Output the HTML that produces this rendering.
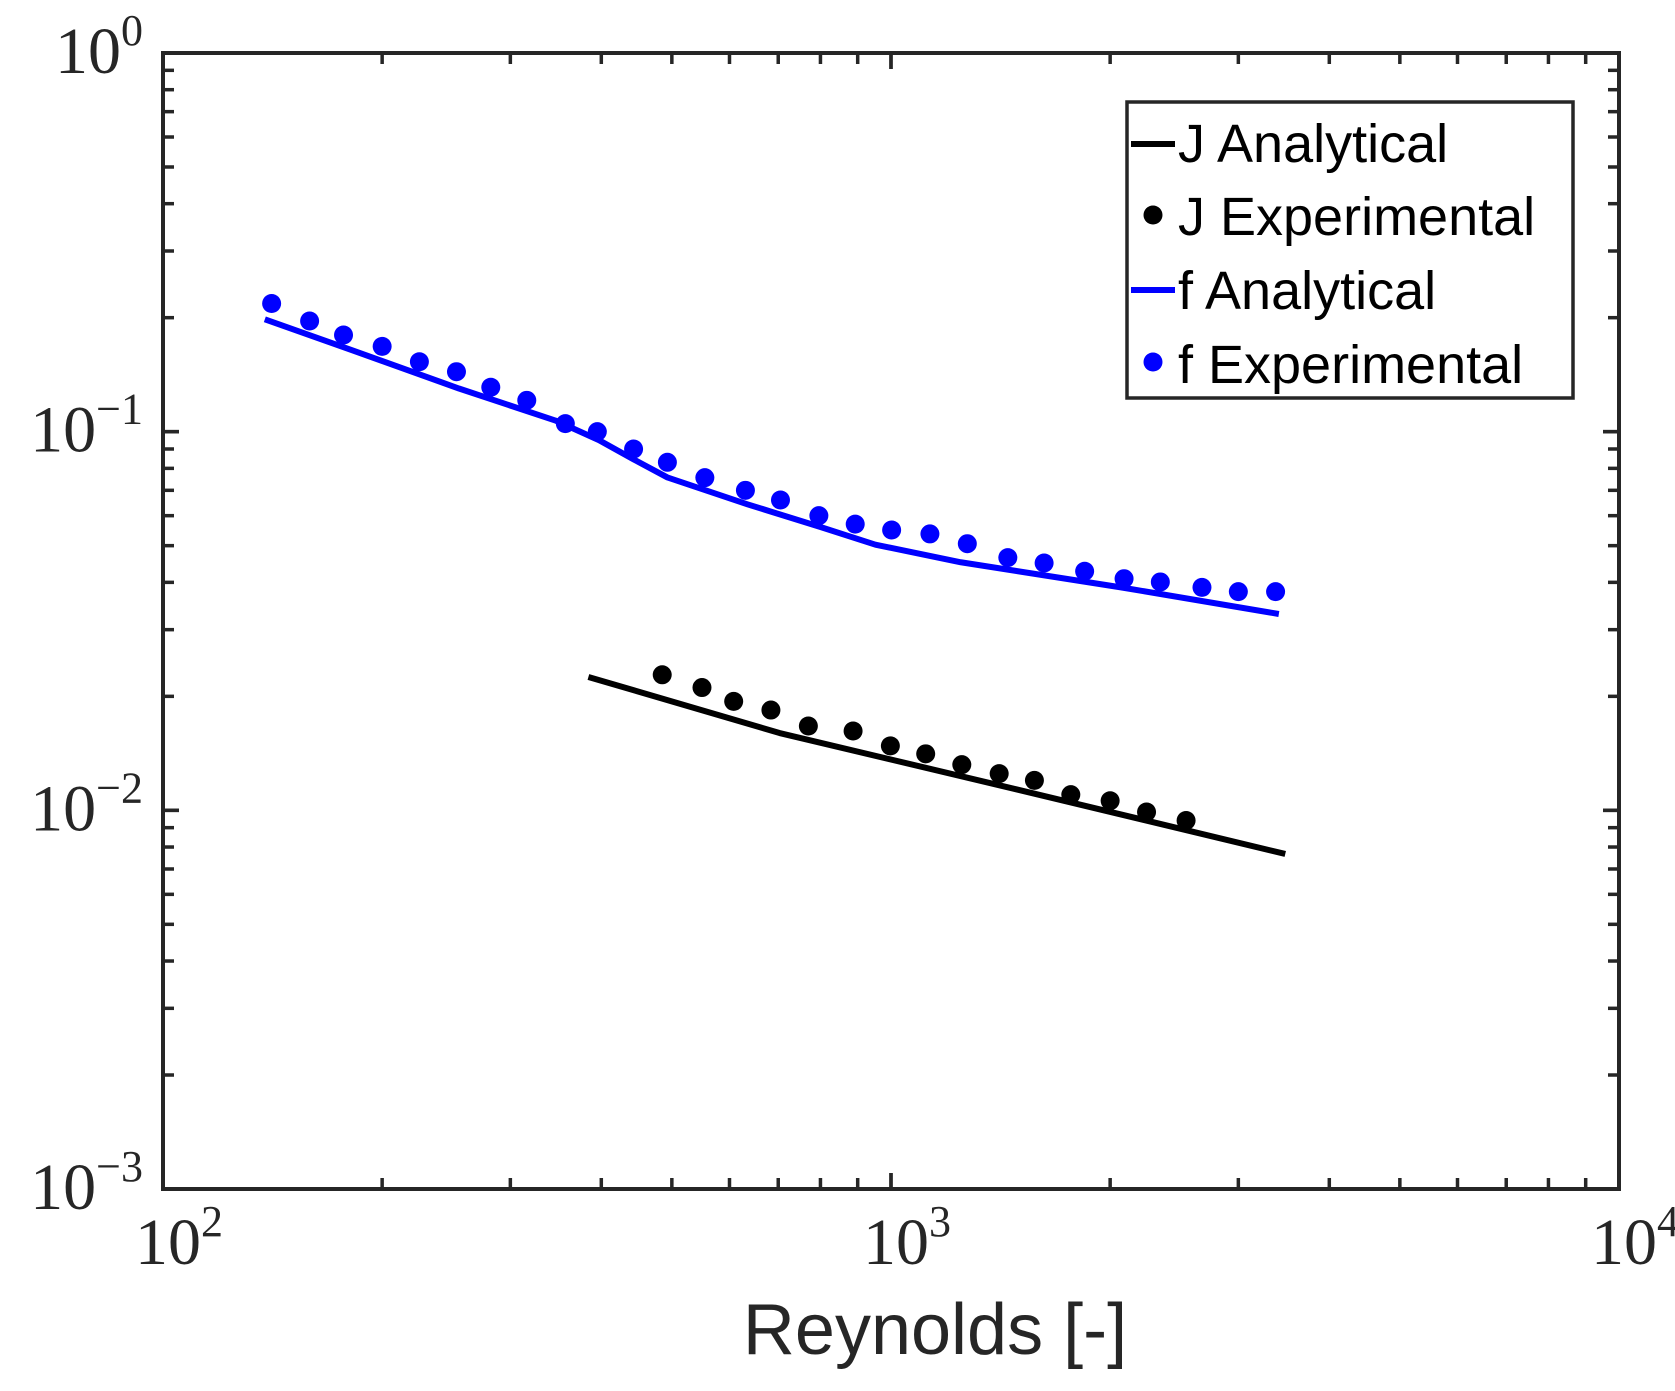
<!DOCTYPE html>
<html><head><meta charset="utf-8"><style>body{margin:0;background:#fff}svg{display:block}</style></head>
<body>
<svg id="chart" width="1675" height="1391" xmlns="http://www.w3.org/2000/svg">
<rect width="1675" height="1391" fill="#fff"/>
<g id="marks"></g>
<g id="axes"></g>
</svg>
<script>
const fReExp=[141,159,177,200,225,253,282,316,357,395,443,493,555,631,705,796,893,1002,1131,1273,1447,1623,1845,2090,2344,2674,3000,3375];
const fValExp=[.218,.196,.180,.168,.153,.144,.131,.121,.105,.100,.090,.083,.0756,.070,.066,.060,.057,.055,.0537,.0506,.0465,.045,.0428,.0409,.0401,.0388,.0378,.0378];
const fReAn=[138,182,255,346,397,443,493,635,800,952,1247,2070,3410];
const fValAn=[.198,.164,.130,.107,.095,.0845,.0757,.0643,.0560,.0503,.0452,.0388,.0330];
const jReExp=[485,550,608,684,770,887,998,1116,1251,1408,1574,1766,2000,2244,2543];
const jValExp=[.0228,.0211,.0194,.0184,.0167,.0162,.0148,.0141,.0132,.0125,.0120,.0110,.0106,.0099,.0094];
const jReAn=[384,703,1476,3480];
const jValAn=[.0225,.0160,.0114,.00767];
const xTickExp=[2,3,4];
const yTickExp=[0,-1,-2,-3];

const L=163,R=1619,T=53,B=1189;
const X=v=>L+(Math.log10(v)-2)/2*(R-L);
const Y=v=>T+(0-Math.log10(v))/3*(B-T);
const NS='http://www.w3.org/2000/svg';
function mk(tag,attrs,parent){const e=document.createElementNS(NS,tag);for(const k in attrs)e.setAttribute(k,attrs[k]);parent.appendChild(e);return e;}
const marks=document.getElementById('marks'),axes=document.getElementById('axes');

function line(xs,ys,color,name){
  const p=mk('polyline',{points:xs.map((x,i)=>X(x)+','+Y(ys[i])).join(' '),fill:'none',stroke:color,'stroke-width':6,'stroke-linejoin':'round'},marks);
  
  
}
function dots(xs,ys,color,name){
  xs.forEach((x,i)=>{const c=mk('circle',{cx:X(x),cy:Y(ys[i]),r:9.5,fill:color},marks);
    
    });
}
line(fReAn,fValAn,'#0000ff','f-analytical-line');
dots(fReExp,fValExp,'#0000ff','f-experimental-point');
line(jReAn,jValAn,'#000','j-analytical-line');
dots(jReExp,jValExp,'#000','j-experimental-point');

const fr=mk('rect',{x:L,y:T,width:R-L,height:B-T,fill:'none',stroke:'#262626','stroke-width':4},axes);


for(let d=2;d<4;d++)for(let m=1;m<=10;m++){const v=m*Math.pow(10,d);const x=X(v);const len=(m==1||m==10)?16:11;
  mk('line',{x1:x,x2:x,y1:B,y2:B-len,stroke:'#262626','stroke-width':3.5},axes);
  mk('line',{x1:x,x2:x,y1:T,y2:T+len,stroke:'#262626','stroke-width':3.5},axes);}
for(let d=-3;d<0;d++)for(let m=1;m<=10;m++){const v=m*Math.pow(10,d);const y=Y(v);const len=(m==1||m==10)?16:11;
  mk('line',{x1:L,x2:L+len,y1:y,y2:y,stroke:'#262626','stroke-width':3.5},axes);
  mk('line',{x1:R,x2:R-len,y1:y,y2:y,stroke:'#262626','stroke-width':3.5},axes);}
xTickExp.forEach(e=>{const t=mk('text',{x:X(Math.pow(10,e))+16,y:1264,'text-anchor':'middle','font-family':'Liberation Serif, serif','font-size':66,fill:'#262626'},axes);
  t.innerHTML='10<tspan dy="-28" font-size="44">'+e+'</tspan>';
  
  });
yTickExp.forEach(e=>{const t=mk('text',{x:143,y:Y(Math.pow(10,e))+20,'text-anchor':'end','font-family':'Liberation Serif, serif','font-size':66,fill:'#262626'},axes);
  t.innerHTML='10<tspan dy="-28" font-size="44">'+(e<0?'−'+(-e):e)+'</tspan>';
  
  });
</script>
<svg style="position:absolute;left:0;top:0" width="1675" height="1391" xmlns="http://www.w3.org/2000/svg">
<text x="935" y="1354" text-anchor="middle" font-family="Liberation Sans, sans-serif" font-size="72" fill="#262626">Reynolds [-]</text>
<g>
<rect x="1127" y="102" width="446" height="296" fill="#fff" stroke="#262626" stroke-width="3.5"/>
<line x1="1131" x2="1175" y1="144" y2="144" stroke="#000" stroke-width="6"/>
<text x="1178" y="162" font-family="Liberation Sans, sans-serif" font-size="54" fill="#000">J Analytical</text>
<circle cx="1153" cy="215" r="9.5" fill="#000"/>
<text x="1178" y="235" font-family="Liberation Sans, sans-serif" font-size="54" fill="#000">J Experimental</text>
<line x1="1131" x2="1175" y1="290" y2="290" stroke="#0000ff" stroke-width="6"/>
<text x="1178" y="309" font-family="Liberation Sans, sans-serif" font-size="54" fill="#000">f Analytical</text>
<circle cx="1153" cy="362" r="9.5" fill="#0000ff"/>
<text x="1178" y="383" font-family="Liberation Sans, sans-serif" font-size="54" fill="#000">f Experimental</text>
</g>
</svg>
</body></html>
